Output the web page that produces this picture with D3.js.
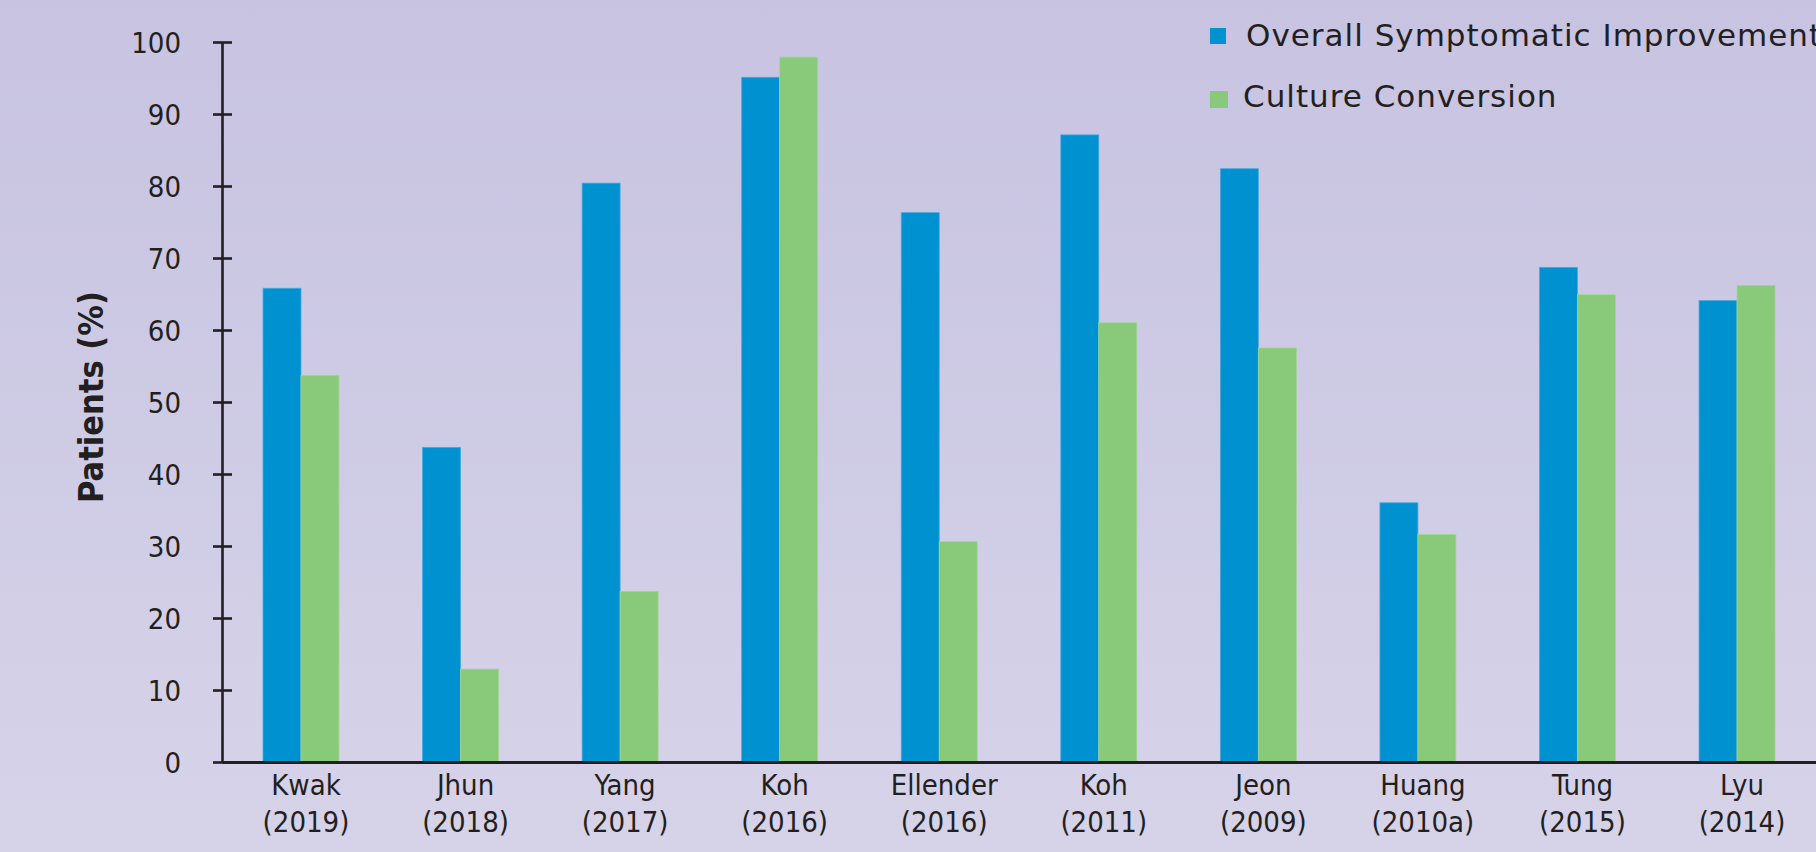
<!DOCTYPE html>
<html>
<head>
<meta charset="utf-8">
<script src="https://cdn.jsdelivr.net/npm/d3@7"></script>
<style>
  html, body { margin: 0; padding: 0; overflow: hidden; }
  svg { display: block; }
</style>
</head>
<body>
<svg id="chart" width="1816" height="852"></svg>
<script>
// Study authors and publication years (one group per study)
const studies = ["Kwak", "Jhun", "Yang", "Koh", "Ellender", "Koh", "Jeon", "Huang", "Tung", "Lyu"];
const years = ["(2019)", "(2018)", "(2017)", "(2016)", "(2016)", "(2011)", "(2009)", "(2010a)", "(2015)", "(2014)"];

// Percentage of patients per outcome
const symptomatic = [65.8, 43.7, 80.4, 95.1, 76.3, 87.1, 82.4, 36.0, 68.7, 64.1];
const conversion = [53.7, 12.9, 23.7, 97.9, 30.6, 61.0, 57.5, 31.6, 64.9, 66.2];

const seriesNames = ["Overall Symptomatic Improvement", "Culture Conversion"];
const yTicks = [0, 10, 20, 30, 40, 50, 60, 70, 80, 90, 100];

const colors = ["#0091d0", "#89c97a"];
const strokes = ["#4aa8dc", "#a3d496"];
const ink = "#231f20";

const svg = d3.select("#chart");
const W = 1816, H = 852;

// background wash
const defs = svg.append("defs");
const grad = defs.append("linearGradient")
  .attr("id", "bg").attr("x1", 0).attr("y1", 0).attr("x2", 0).attr("y2", 1);
grad.append("stop").attr("offset", "0%").attr("stop-color", "#c7c3e1");
grad.append("stop").attr("offset", "100%").attr("stop-color", "#d6d3e9");
svg.append("rect").attr("width", W).attr("height", H).attr("fill", "url(#bg)");

const rows = studies.map((s, i) => ({
  key: i,
  name: s,
  year: years[i],
  values: [symptomatic[i], conversion[i]]
}));

const x0 = d3.scaleBand()
  .domain(rows.map(d => d.key))
  .range([222, 1816])
  .paddingInner(0.524)
  .paddingOuter(0.257);

const x1 = d3.scaleBand()
  .domain([0, 1])
  .range([0, x0.bandwidth()]);

const y = d3.scaleLinear().domain([0, 100]).range([762, 42]);

// bars
const groups = svg.append("g").selectAll("g")
  .data(rows)
  .join("g")
  .attr("transform", d => `translate(${x0(d.key)},0)`);

groups.selectAll("rect")
  .data(d => d.values.map((v, j) => ({ v, j })))
  .join("rect")
  .attr("x", d => x1(d.j))
  .attr("width", x1.bandwidth())
  .attr("y", d => y(d.v))
  .attr("height", d => y(0) - y(d.v))
  .attr("fill", d => colors[d.j])
  .attr("stroke", d => strokes[d.j])
  .attr("stroke-width", 0.8);

// y axis
const yAxis = svg.append("g")
  .attr("transform", "translate(222,0)")
  .call(d3.axisLeft(y).tickValues(yTicks).tickSize(9).tickSizeOuter(0).tickPadding(32));
yAxis.select(".domain").attr("stroke", ink).attr("stroke-width", 2.6);
yAxis.selectAll(".tick line").attr("x1", 10).attr("stroke", ink).attr("stroke-width", 2.6);
yAxis.selectAll(".tick text")
  .attr("fill", ink)
  .style("font-family", "'DejaVu Sans Condensed', 'DejaVu Sans', sans-serif")
  .style("font-size", "29px")
  .attr("dy", "0.36em");

// x axis
const xAxis = svg.append("g")
  .attr("transform", "translate(0,762)")
  .call(d3.axisBottom(x0).tickSize(0).tickSizeOuter(0).tickFormat(""));
xAxis.select(".domain").attr("stroke", ink).attr("stroke-width", 2.8);

const xl = xAxis.selectAll(".tick text")
  .text(null)
  .attr("y", 0)
  .attr("dy", null)
  .attr("fill", ink)
  .style("font-family", "'DejaVu Sans Condensed', 'DejaVu Sans', sans-serif")
  .style("font-size", "29px");
xl.append("tspan").attr("x", 5).attr("y", 33).text(d => rows[d].name);
xl.append("tspan").attr("x", 5).attr("y", 70).text(d => rows[d].year);

// y axis title
svg.append("text")
  .attr("transform", "translate(103,397) rotate(-90)")
  .attr("text-anchor", "middle")
  .attr("fill", ink)
  .style("font-family", "'DejaVu Sans Condensed', 'DejaVu Sans', sans-serif")
  .style("font-weight", "bold")
  .style("font-size", "34px")
  .text("Patients (%)");

// legend
const legend = svg.append("g");
const legendItems = [
  { sx: 1210, sy: 28, sw: 16, sh: 16, tx: 1246, ty: 46 },
  { sx: 1210, sy: 91, sw: 18, sh: 17, tx: 1243, ty: 107 }
];
legendItems.forEach((p, i) => {
  legend.append("rect")
    .attr("x", p.sx).attr("y", p.sy)
    .attr("width", p.sw).attr("height", p.sh)
    .attr("fill", colors[i]);
  legend.append("text")
    .attr("x", p.tx).attr("y", p.ty)
    .attr("fill", ink)
    .style("font-family", "'DejaVu Sans', sans-serif")
    .style("font-size", "31px")
    .style("letter-spacing", "1px")
    .text(seriesNames[i]);
});
</script>
</body>
</html>
